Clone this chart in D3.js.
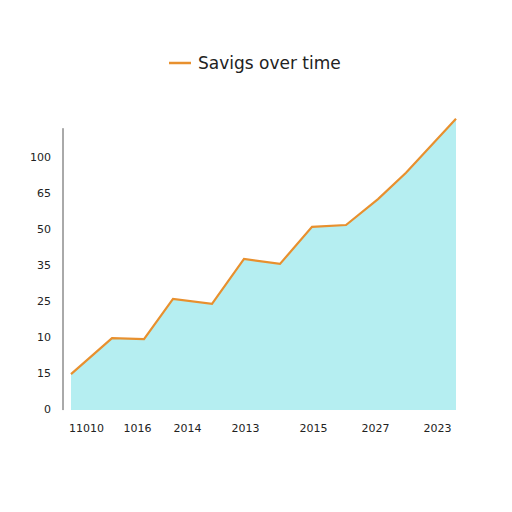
<!DOCTYPE html>
<html><head><meta charset="utf-8">
<script src="https://d3js.org/d3.v7.min.js"></script>
<style>body{margin:0;background:#fff}</style></head>
<body><svg id="c" width="512" height="512"></svg>
<script>
const xVals = [0, 41, 73, 102, 141, 173, 209, 241, 275, 307, 335, 385];
const yVals = [0.97, 1.97, 1.94, 3.06, 2.92, 4.17, 4.03, 5.06, 5.11, 5.83, 6.56, 8.06];
const yTickLabels = ["0", "15", "10", "25", "35", "50", "65", "100"];
const xTickLabels = ["11010", "1016", "2014", "2013", "2015", "2027", "2023"];
const xTickPos = [15, 66, 116, 174, 242, 304, 366];
const seriesName = "Savigs over time";

const svg = d3.select("#c");
const x = d3.scaleLinear().domain([0, 385]).range([71, 456]);
const y = d3.scaleLinear().domain([0, 7]).range([409, 157]);
const data = xVals.map((v, i) => [v, yVals[i]]);

svg.append("path").datum(data)
  .attr("d", d3.area().x(d => x(d[0])).y0(y(-0.03)).y1(d => y(d[1])))
  .attr("fill", "#b5eef1");
svg.append("path").datum(data)
  .attr("d", d3.line().x(d => x(d[0])).y(d => y(d[1])))
  .attr("fill", "none").attr("stroke", "#e8902e").attr("stroke-width", 2.2);

const ya = svg.append("g").attr("transform", "translate(63,0)")
  .call(d3.axisLeft(y).tickValues(d3.range(8)).tickFormat(i => yTickLabels[i]).tickSize(0).tickPadding(12));
ya.select(".domain").remove();
svg.append("line").attr("x1", 63).attr("x2", 63).attr("y1", y(7.8)).attr("y2", y(-0.03))
  .attr("stroke", "#555").attr("stroke-width", 1);
ya.selectAll("text").attr("font-family", "DejaVu Sans").attr("font-size", 11).attr("fill", "#222");

const xa = svg.append("g").attr("transform", "translate(0,422)")
  .call(d3.axisBottom(x).tickValues(xTickPos).tickFormat((d, i) => xTickLabels[i]).tickSize(0).tickPadding(2));
xa.select(".domain").remove();
xa.selectAll("text").attr("font-family", "DejaVu Sans").attr("font-size", 11).attr("fill", "#222");

svg.append("line").attr("x1", 169).attr("x2", 191).attr("y1", 63).attr("y2", 63)
  .attr("stroke", "#e8902e").attr("stroke-width", 2.5);
svg.append("text").attr("x", 198).attr("y", 69).text(seriesName)
  .attr("font-family", "DejaVu Sans").attr("font-size", 17).attr("fill", "#222");
</script></body></html>
